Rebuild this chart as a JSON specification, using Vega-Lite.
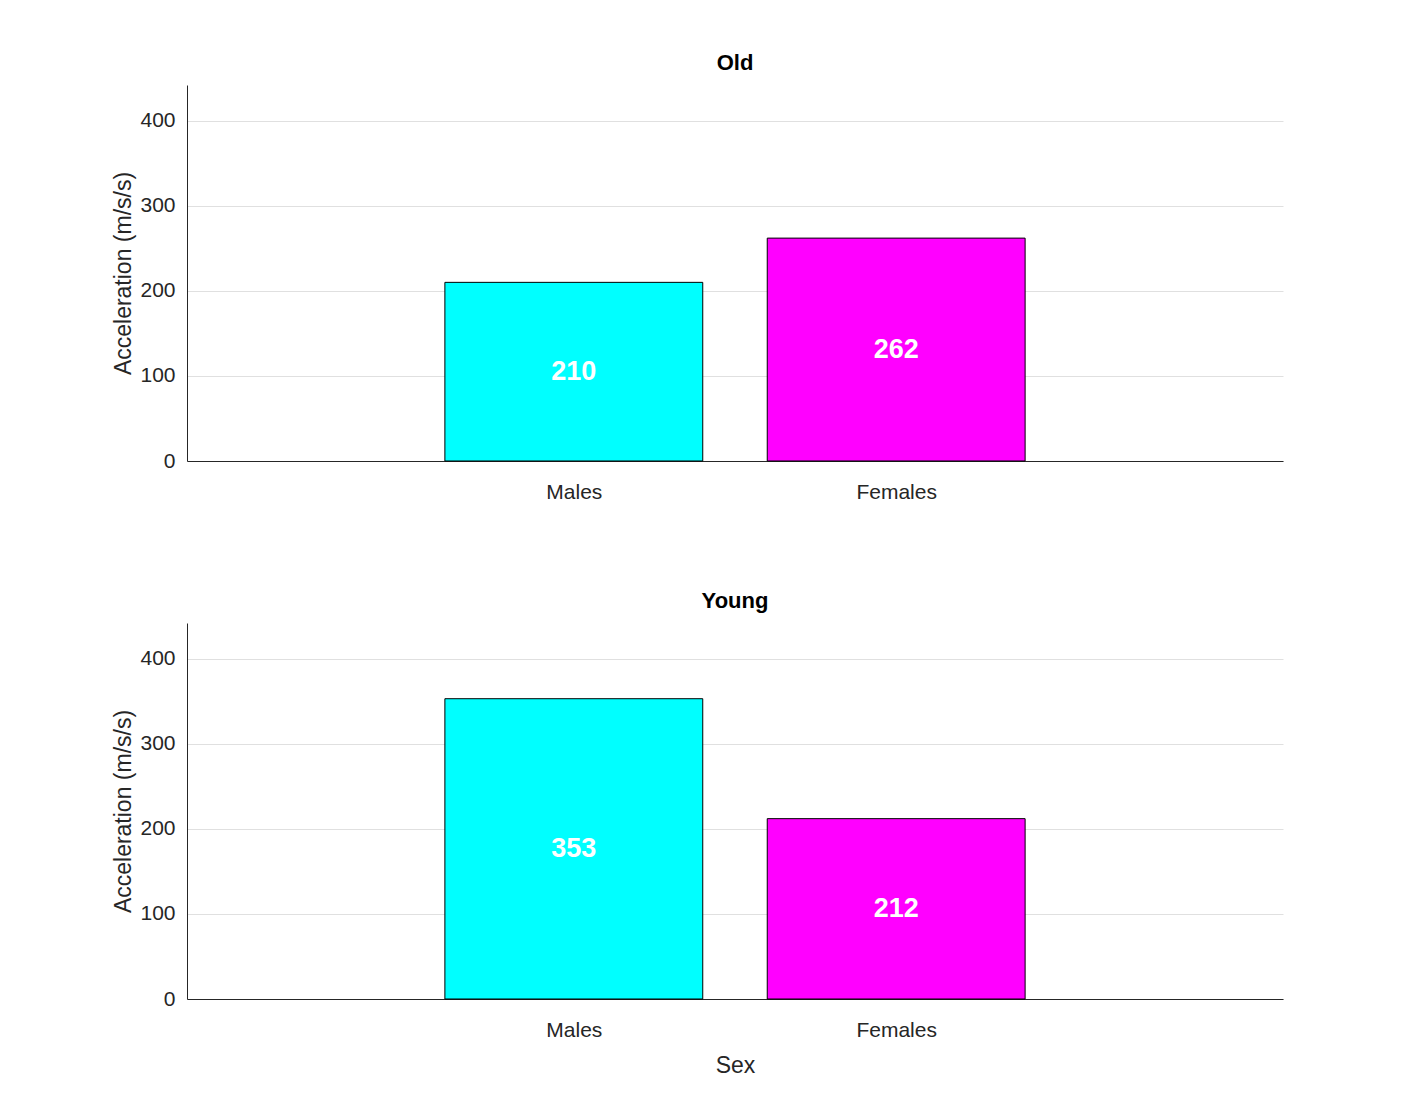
{
  "$schema": "https://vega.github.io/schema/vega-lite/v6.json",
  "background": "white",
  "padding": {"left": 112, "top": 52, "right": 120, "bottom": 20},
  "spacing": 88,
  "config": {
    "font": "Liberation Sans",
    "view": {"stroke": null},
    "title": {"fontSize": 22, "fontWeight": "bold", "color": "black", "offset": 10},
    "axis": {"labelFont": "Liberation Sans", "titleFont": "Liberation Sans", "labelColor": "#262626", "titleColor": "#262626", "domainColor": "#262626", "tickColor": "#262626", "labelFontSize": 21, "titleFontSize": 23, "titleFontWeight": "normal"}
  },
  "data": {
    "values": [
      {"group": "Old", "sex": "Males", "x": 1, "x0": 0.6, "x1": 1.4, "value": 210, "color": "cyan"},
      {"group": "Old", "sex": "Females", "x": 2, "x0": 1.6, "x1": 2.4, "value": 262, "color": "magenta"},
      {"group": "Young", "sex": "Males", "x": 1, "x0": 0.6, "x1": 1.4, "value": 353, "color": "cyan"},
      {"group": "Young", "sex": "Females", "x": 2, "x0": 1.6, "x1": 2.4, "value": 212, "color": "magenta"}
    ]
  },
  "transform": [{"calculate": "datum.value / 2", "as": "mid"}],
  "vconcat": [
    {
      "title": "Old",
      "width": 1096, "height": 376,
      "transform": [{"filter": "datum.group === 'Old'"}],
      "layer": [
        {
          "mark": {"type": "bar", "stroke": "black", "strokeWidth": 1},
          "encoding": {
            "x": {"field": "x0", "type": "quantitative", "scale": {"domain": [-0.2, 3.2], "nice": false, "zero": false},
              "axis": {"values": [1, 2], "labelExpr": "datum.value == 1 ? 'Males' : 'Females'", "title": null, "grid": false, "tickSize": -8, "labelPadding": 28}},
            "x2": {"field": "x1"},
            "y": {"field": "value", "type": "quantitative", "scale": {"domain": [0, 442], "nice": false},
              "axis": {"values": [0, 100, 200, 300, 400], "title": "Acceleration (m/s/s)", "grid": true, "gridColor": "#e0e0e0", "tickSize": 0, "labelPadding": 12}},
            "y2": {"datum": 0},
            "color": {"field": "color", "type": "nominal", "scale": null}
          }
        },
        {
          "mark": {"type": "text", "color": "white", "fontSize": 27, "fontWeight": "bold"},
          "encoding": {
            "x": {"field": "x", "type": "quantitative"},
            "y": {"field": "mid", "type": "quantitative"},
            "text": {"field": "value", "type": "quantitative"}
          }
        }
      ]
    },
    {
      "title": "Young",
      "width": 1096, "height": 376,
      "transform": [{"filter": "datum.group === 'Young'"}],
      "layer": [
        {
          "mark": {"type": "bar", "stroke": "black", "strokeWidth": 1},
          "encoding": {
            "x": {"field": "x0", "type": "quantitative", "scale": {"domain": [-0.2, 3.2], "nice": false, "zero": false},
              "axis": {"values": [1, 2], "labelExpr": "datum.value == 1 ? 'Males' : 'Females'", "title": "Sex", "grid": false, "tickSize": -8, "labelPadding": 28, "titlePadding": 14}},
            "x2": {"field": "x1"},
            "y": {"field": "value", "type": "quantitative", "scale": {"domain": [0, 442], "nice": false},
              "axis": {"values": [0, 100, 200, 300, 400], "title": "Acceleration (m/s/s)", "grid": true, "gridColor": "#e0e0e0", "tickSize": 0, "labelPadding": 12}},
            "y2": {"datum": 0},
            "color": {"field": "color", "type": "nominal", "scale": null}
          }
        },
        {
          "mark": {"type": "text", "color": "white", "fontSize": 27, "fontWeight": "bold"},
          "encoding": {
            "x": {"field": "x", "type": "quantitative"},
            "y": {"field": "mid", "type": "quantitative"},
            "text": {"field": "value", "type": "quantitative"}
          }
        }
      ]
    }
  ]
}
